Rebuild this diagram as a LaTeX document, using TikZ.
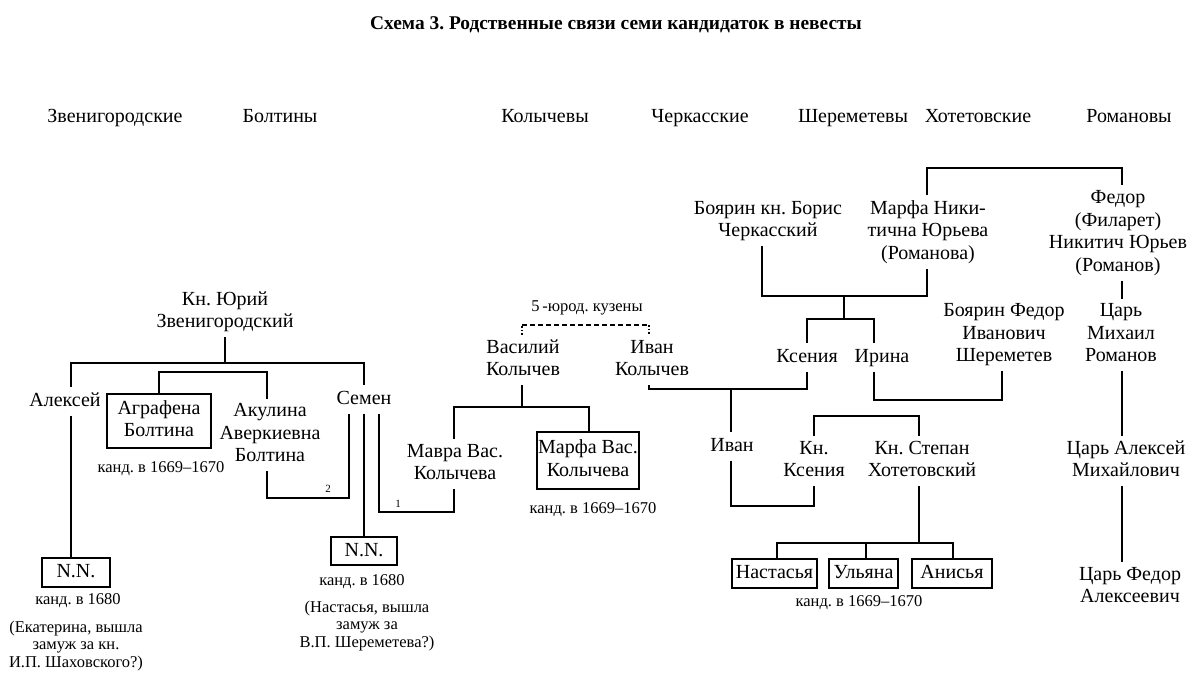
\documentclass[tikz,border=0pt]{standalone}
\usepackage{fontspec}
\setmainfont{Liberation Serif}
\frenchspacing
\newcommand\bodyfs{\fontsize{20}{22.5}\selectfont}
\newcommand\smallfs{\fontsize{16.5}{17.5}\selectfont}
\newcommand\titlefs{\fontsize{19.4}{22}\selectfont\bfseries}
\newcommand\tinyfs{\fontsize{11}{13}\selectfont}
\newcommand\lnstrut{\vrule width 0pt height 14.5pt depth 4.5pt}
\begin{document}
\begin{tikzpicture}[x=1pt,y=-1pt,
  txt/.style={font=\bodyfs,align=center,inner sep=0pt,outer sep=5pt,
    execute at begin node=\lnstrut,execute at end node=\lnstrut},
  hdr/.style={font=\bodyfs,inner sep=0pt,anchor=base},
  sm/.style={font=\smallfs,align=center,inner sep=0pt},
  tiny/.style={font=\tinyfs,inner sep=0pt},
  cand/.style={draw,line width=1.2pt,font=\bodyfs,align=center,inner sep=0pt,outer sep=0pt,
    execute at begin node=\lnstrut,execute at end node=\lnstrut},
  con/.style={line width=1.2pt},
  dotv/.style={line width=1.2pt,dash pattern=on 1.5pt off 2pt},
  dashh/.style={line width=1.2pt,dash pattern=on 5pt off 3pt}]
\useasboundingbox (0,0) rectangle (1198,677);

% title and headers
\node[font=\titlefs,inner sep=0pt] (title) at (616,25) {Схема 3. Родственные связи семи кандидаток в невесты};
\node[hdr] (hz) at (115,122) {Звенигородские};
\node[hdr] (hb) at (280,122) {Болтины};
\node[hdr] (hk) at (545,122) {Колычевы};
\node[hdr] (hc) at (700,122) {Черкасские};
\node[hdr] (hs) at (853,122) {Шереметевы};
\node[hdr] (hh) at (978,122) {Хотетовские};
\node[hdr] (hr) at (1129,122) {Романовы};

% Zvenigorodsky / Boltin
\node[txt] (yuri) at (225,312) {Кн. Юрий\\Звенигородский};
\node[txt] (alexei) at (65,401) {Алексей};
\node[cand,minimum width=104pt,minimum height=54pt] (agrafena) at (159,421) {Аграфена\\Болтина};
\node[sm] (kand1) at (161,469) {канд. в 1669–1670};
\node[txt] (akulina) at (270,435) {Акулина\\Аверкиевна\\Болтина};
\node[txt] (semen) at (364,399) {Семен};
\node[cand,minimum width=68pt,minimum height=29pt] (nn1) at (76,572.5) {N.N.};
\node[sm] (kand2) at (78,601) {канд. в 1680};
\node[sm] (note1) at (76,646) {(Екатерина, вышла\\замуж за кн.\\И.П. Шаховского?)};
\node[cand,minimum width=66pt,minimum height=28pt] (nn2) at (364,551) {N.N.};
\node[sm] (kand3) at (362,582) {канд. в 1680};
\node[sm] (note2) at (367,626) {(Настасья, вышла\\замуж за\\В.П. Шереметева?)};
\node[tiny] (lab2) at (328,489) {2};
\node[tiny] (lab1) at (398,504) {1};

% Kolychev
\node[sm] (cousins) at (587,308) {5\,-юрод. кузены};
\node[txt] (vasily) at (523,360) {Василий\\Колычев};
\node[txt] (ivank) at (652,360) {Иван\\Колычев};
\node[txt] (mavra) at (455,464) {Мавра Вас.\\Колычева};
\node[cand,minimum width=102pt,minimum height=57pt] (marfak) at (588,460.5) {Марфа Вас.\\Колычева};
\node[sm] (kand4) at (593,510) {канд. в 1669–1670};

% Cherkassky / Sheremetev / Khotetovsky
\node[txt] (boris) at (768,221) {Боярин кн. Борис\\Черкасский};
\node[txt] (marfan) at (928,232) {Марфа Ники-\\тична Юрьева\\(Романова)};
\node[txt] (ksenia) at (807,357) {Ксения};
\node[txt] (irina) at (882,357) {Ирина};
\node[txt] (sherem) at (1004,335) {Боярин Федор\\Иванович\\Шереметев};
\node[txt] (ivan) at (732,446) {Иван};
\node[txt] (knks) at (814,461) {Кн.\\Ксения};
\node[txt] (stepan) at (922,461) {Кн. Степан\\Хотетовский};
\node[cand,minimum width=85pt,minimum height=29pt] (nast) at (774.5,573.5) {Настасья};
\node[cand,minimum width=69pt,minimum height=29pt] (ulyana) at (863.5,573.5) {Ульяна};
\node[cand,minimum width=80pt,minimum height=29pt] (anisya) at (952,573.5) {Анисья};
\node[sm] (kand5) at (859,603) {канд. в 1669–1670};

% Romanov
\node[txt] (fedor) at (1118,233) {Федор\\(Филарет)\\Никитич Юрьев\\(Романов)};
\node[txt] (mikhail) at (1121,335) {Царь\\Михаил\\Романов};
\node[txt] (alexeym) at (1126,461) {Царь Алексей\\Михайлович};
\node[txt] (fedora) at (1130,587) {Царь Федор\\Алексеевич};

% bar levels
\coordinate (bZ) at (225,363);
\coordinate (bB) at (213,372);
\coordinate (b2) at (300,498);
\coordinate (b1) at (420,512);
\coordinate (bK) at (522,407);
\coordinate (bD) at (585,325);
\coordinate (bI) at (731,389);
\coordinate (bIK) at (770,506);
\coordinate (bX) at (866,416);
\coordinate (bH) at (866,543);
\coordinate (bC1) at (844,296);
\coordinate (bC2) at (844,319);
\coordinate (bS) at (940,400);
\coordinate (bR) at (1020,168);

% Zvenigorodsky connectors
\draw[con] (yuri.south) -- (yuri.south |- bZ);
\draw[con] ([xshift=6pt]alexei.north) -- ([xshift=6pt]alexei.north |- bZ) -- (semen.north |- bZ) -- (semen.north);
\draw[con] (agrafena.north) -- (agrafena.north |- bB) -- ([xshift=-3pt]akulina.north |- bB) -- ([xshift=-3pt]akulina.north);
\draw[con] ([xshift=6pt]alexei.south) -- ([xshift=6pt]alexei.south |- nn1.north);
\draw[con] ([xshift=-3pt]akulina.south) -- ([xshift=-3pt]akulina.south |- b2) -- ([xshift=-15pt]semen.south |- b2) -- ([xshift=-15pt]semen.south);
\draw[con] (semen.south) -- (semen.south |- nn2.north);
\draw[con] ([xshift=15pt]semen.south) -- ([xshift=15pt]semen.south |- b1) -- ([xshift=-1pt]mavra.south |- b1) -- ([xshift=-1pt]mavra.south);

% Kolychev connectors
\draw[con] ([xshift=-1pt]vasily.south) -- ([xshift=-1pt]vasily.south |- bK);
\draw[con] ([xshift=-1pt]mavra.north) -- ([xshift=-1pt]mavra.north |- bK) -- ([xshift=1pt]marfak.north |- bK) -- ([xshift=1pt]marfak.north);
\draw[dotv] ([xshift=-1pt]vasily.north) -- ([xshift=-1pt]vasily.north |- bD);
\draw[dashh] ([xshift=-1pt]vasily.north |- bD) -- ([xshift=-3pt]ivank.north |- bD);
\draw[dotv] ([xshift=-3pt]ivank.north |- bD) -- ([xshift=-3pt]ivank.north);

% Ivan Kolychev -- Ksenia, son Ivan
\draw[con] ([xshift=-3pt]ivank.south) -- ([xshift=-3pt]ivank.south |- bI) -- (ksenia.south |- bI) -- (ksenia.south);
\draw[con] ([xshift=-1pt]ivan.north |- bI) -- ([xshift=-1pt]ivan.north);
\draw[con] ([xshift=-1pt]ivan.south) -- ([xshift=-1pt]ivan.south |- bIK) -- (knks.south |- bIK) -- (knks.south);

% Khotetovsky
\draw[con] (knks.north) -- (knks.north |- bX) -- ([xshift=-3pt]stepan.north |- bX) -- ([xshift=-3pt]stepan.north);
\draw[con] ([xshift=-3pt]stepan.south) -- ([xshift=-3pt]stepan.south |- bH);
\draw[con] ([xshift=2.5pt]nast.north) -- ([xshift=2.5pt]nast.north |- bH) -- ([xshift=1pt]anisya.north |- bH) -- ([xshift=1pt]anisya.north);
\draw[con] ([xshift=2.5pt]ulyana.north) -- ([xshift=2.5pt]ulyana.north |- bH);

% Cherkassky
\draw[con] ([xshift=-6pt]boris.south) -- ([xshift=-6pt]boris.south |- bC1) -- ([xshift=-1pt]marfan.south |- bC1) -- ([xshift=-1pt]marfan.south);
\draw[con] (bC1) -- (bC2);
\draw[con] (ksenia.north) -- (ksenia.north |- bC2) -- ([xshift=-8pt]irina.north |- bC2) -- ([xshift=-8pt]irina.north);
\draw[con] ([xshift=-8pt]irina.south) -- ([xshift=-8pt]irina.south |- bS) -- ([xshift=-2pt]sherem.south |- bS) -- ([xshift=-2pt]sherem.south);
\draw[con] ([xshift=-1pt]marfan.north) -- ([xshift=-1pt]marfan.north |- bR) -- ([xshift=4pt]fedor.north |- bR) -- ([xshift=4pt]fedor.north);

% Romanov line
\draw[con] ([xshift=4pt]fedor.south) -- ([xshift=1pt]mikhail.north);
\draw[con] ([xshift=1pt]mikhail.south) -- ([xshift=1pt]mikhail.south |- alexeym.north);
\draw[con] ([xshift=1pt]mikhail.south |- alexeym.south) -- ([xshift=1pt]mikhail.south |- fedora.north);
\end{tikzpicture}
\end{document}
